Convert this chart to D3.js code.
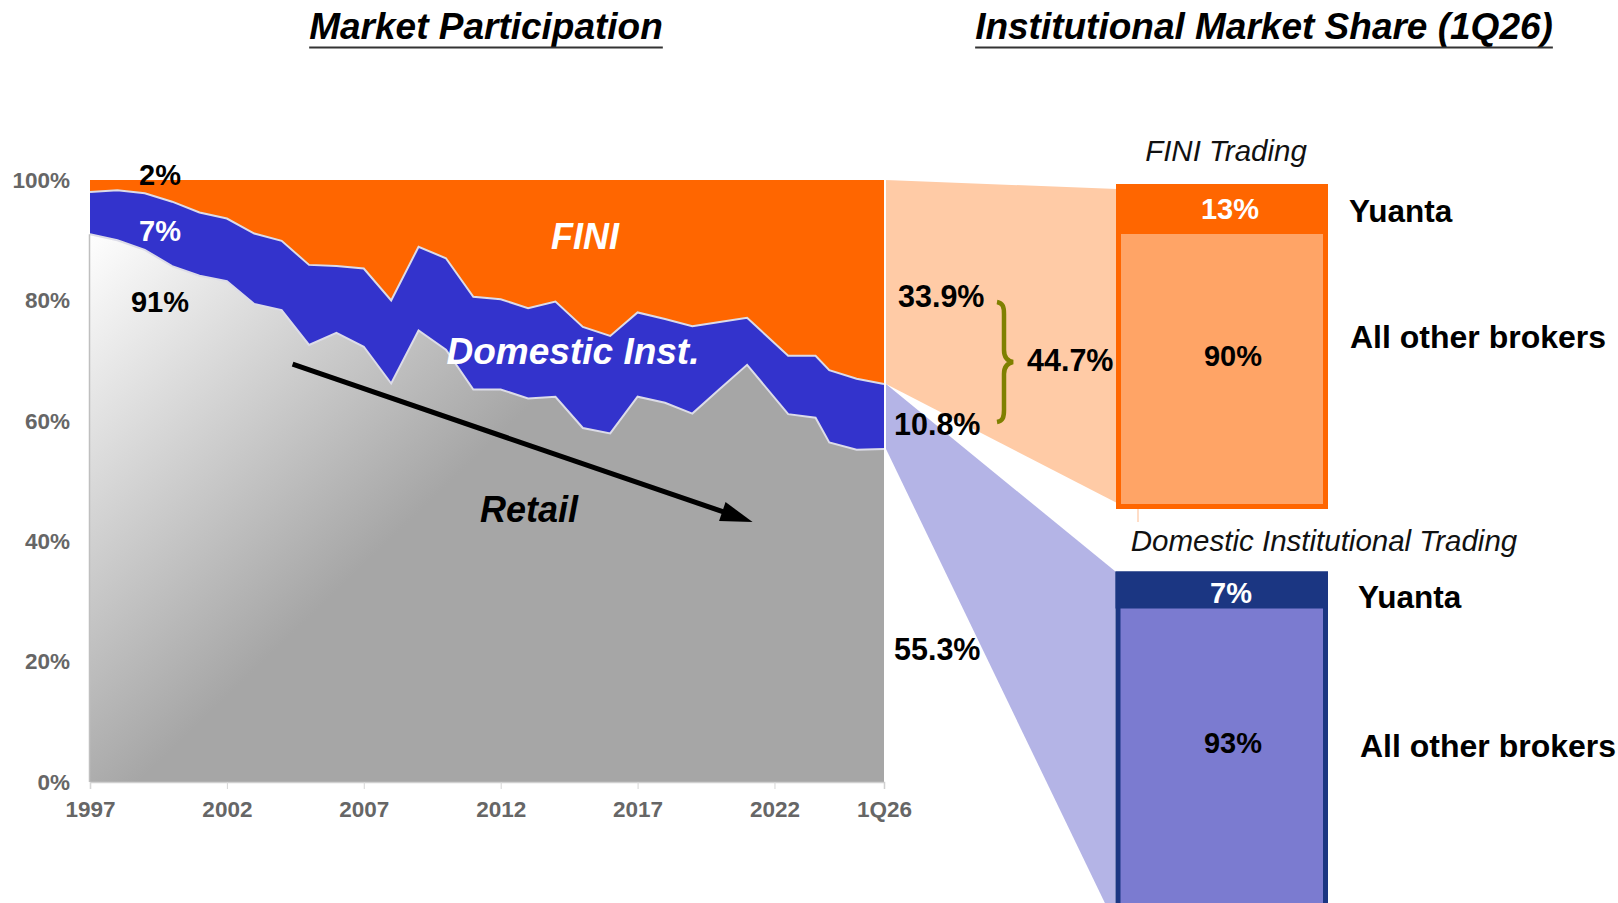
<!DOCTYPE html>
<html>
<head>
<meta charset="utf-8">
<script src="https://cdn.jsdelivr.net/npm/d3@7/dist/d3.min.js"></script>
<style>
  body { margin: 0; background: #fff; }
  text { font-family: "Liberation Sans", Arial, sans-serif; }
</style>
</head>
<body>
<div id="svg-spot"></div>
<script>
// Market participation by period (2026 = 1Q26)
var periods  = [1997, 1998, 1999, 2000, 2001, 2002, 2003, 2004, 2005, 2006, 2007, 2008, 2009, 2010, 2011,
                2012, 2013, 2014, 2015, 2016, 2017, 2018, 2019, 2020, 2021, 2022.5, 2023.5, 2024, 2025, 2026];
var retail   = [91, 90.0, 88.4, 85.7, 84.1, 83.2, 79.4, 78.4, 72.6, 74.6, 72.3, 66.2, 75.0, 71.8, 65.2,
                65.2, 63.7, 64.0, 58.8, 57.9, 64.0, 63.0, 61.2, 65.3, 69.3, 61.1, 60.5, 56.4, 55.2, 55.3];
var domestic = [7, 8.3, 9.4, 10.7, 10.5, 10.4, 11.7, 11.5, 13.3, 11.1, 13.0, 13.8, 13.9, 15.2, 15.4,
                15.0, 15.0, 15.8, 16.8, 16.2, 14.0, 13.9, 14.5, 11.1, 7.8, 9.7, 10.3, 12.0, 11.8, 10.8];
var fini     = [2, 1.7, 2.2, 3.6, 5.4, 6.4, 8.9, 10.1, 14.1, 14.3, 14.7, 20.0, 11.1, 13.0, 19.4,
                19.8, 21.3, 20.2, 24.4, 25.9, 22.0, 23.1, 24.3, 23.6, 22.9, 29.2, 29.2, 31.6, 33.0, 33.9];

var xTicks = [1997, 2002, 2007, 2012, 2017, 2022, 2026];
var yTicks = [0, 20, 40, 60, 80, 100];

// Latest split (1Q26)
var latestRetail = 55.3, latestDom = 10.8, latestFini = 33.9, latestInst = 44.7;

// Yuanta share of institutional trading
var finiShare = [{name: "Yuanta", value: 13}, {name: "All other brokers", value: 90}];
var domShare  = [{name: "Yuanta", value: 7},  {name: "All other brokers", value: 93}];

var colors = {fini: "#FF6600", dom: "#3333CC", retail: "#A6A6A6"};

var svgWidth = 1618, svgHeight = 903;

var svg = d3.select("#svg-spot")
    .append("svg")
    .attr("width", svgWidth)
    .attr("height", svgHeight);

var defs = svg.append("defs");
var grad = defs.append("linearGradient")
    .attr("id", "retailGrad")
    .attr("gradientUnits", "userSpaceOnUse")
    .attr("x1", 90).attr("y1", 228)
    .attr("x2", 390).attr("y2", 540);
grad.append("stop").attr("offset", 0).attr("stop-color", "#ffffff");
grad.append("stop").attr("offset", 1).attr("stop-color", colors.retail);

// Scales
var x = d3.scaleLinear().domain([1997, 2026]).range([90, 884]);
var y = d3.scaleLinear().domain([0, 100]).range([782, 180]);

// Build the table for the stack
var table = periods.map(function(p, i) {
    return {t: p, retail: retail[i], dom: domestic[i], fini: fini[i]};
});
var series = d3.stack().keys(["retail", "dom", "fini"])(table);

var area = d3.area()
    .x(function(d) { return x(d.data.t); })
    .y0(function(d) { return y(d[0]); })
    .y1(function(d) { return y(d[1]); });

var fills = {retail: "url(#retailGrad)", dom: colors.dom, fini: colors.fini};

svg.append("g").selectAll("path")
    .data(series)
    .enter()
    .append("path")
    .attr("d", area)
    .attr("fill", function(d) { return fills[d.key]; });

// light edges on top of retail and domestic layers
var edge = d3.line()
    .x(function(d) { return x(d.data.t); })
    .y(function(d) { return y(d[1]); });
svg.append("g").selectAll("path")
    .data(series.slice(0, 2))
    .enter()
    .append("path")
    .attr("d", edge)
    .attr("fill", "none")
    .attr("stroke", "#dcdce8")
    .attr("stroke-width", 2);

// Y axis line beside the retail area
svg.append("line")
    .attr("x1", x(1997) - 0.5).attr("x2", x(1997) - 0.5)
    .attr("y1", y(retail[0])).attr("y2", y(0))
    .attr("stroke", "#bfbfbf").attr("stroke-width", 1.5);

var axisFont = function(sel) {
    sel.attr("fill", "#666")
        .style("font-size", "22.5px")
        .style("font-weight", "bold")
        .style("font-family", "'Liberation Sans', Arial, sans-serif");
};

// X axis
var xAxis = svg.append("g")
    .attr("transform", "translate(0," + y(0) + ")")
    .call(d3.axisBottom(x)
        .tickValues(xTicks)
        .tickSize(7)
        .tickPadding(12)
        .tickFormat(function(d) { return d === 2026 ? "1Q26" : d; }));
xAxis.select(".domain").attr("stroke", "#d0d0d0").attr("stroke-width", 1.5);
xAxis.selectAll(".tick line").attr("stroke", "#d6d6d6")
    .attr("opacity", function(d) { return d === 2026 ? 0 : 1; });
xAxis.selectAll(".tick text").call(axisFont);

// Y axis
var yAxis = svg.append("g")
    .attr("transform", "translate(" + x(1997) + ",0)")
    .call(d3.axisLeft(y)
        .tickValues(yTicks)
        .tickSize(0)
        .tickPadding(20)
        .tickFormat(function(d) { return d + "%"; }));
yAxis.select(".domain").remove();
yAxis.selectAll(".tick text").call(axisFont);

// Labels in the chart
function label(txt, px, py, opts) {
    opts = opts || {};
    return svg.append("text")
        .attr("x", px).attr("y", py)
        .attr("dy", "0.35em")
        .attr("text-anchor", opts.anchor || "middle")
        .attr("fill", opts.fill || "#000")
        .style("font-size", (opts.size || 29) + "px")
        .style("font-weight", opts.weight || "bold")
        .style("font-style", opts.style || "normal")
        .text(txt);
}

label(fini[0] + "%", 160, 175);
label(domestic[0] + "%", 160, 231, {fill: "#fff"});
label(retail[0] + "%", 160, 302);
label("FINI", 585, 236, {fill: "#fff", size: 36, style: "italic"});
label("Domestic Inst.", 573, 351, {fill: "#fff", size: 37, style: "italic"});
label("Retail", 529, 509, {size: 36, style: "italic"});

// Trend arrow
var a0 = [x(2004.4), y(69.4)], a1 = [x(2021.2), y(43.2)];
var ang = Math.atan2(a1[1] - a0[1], a1[0] - a0[0]);
var headLen = 32, headW = 10;
var base = [a1[0] - headLen * Math.cos(ang), a1[1] - headLen * Math.sin(ang)];
svg.append("line")
    .attr("x1", a0[0]).attr("y1", a0[1])
    .attr("x2", base[0] + 2 * Math.cos(ang)).attr("y2", base[1] + 2 * Math.sin(ang))
    .attr("stroke", "#000").attr("stroke-width", 5);
svg.append("path")
    .attr("d", d3.line()([
        a1,
        [base[0] + headW * Math.sin(ang), base[1] - headW * Math.cos(ang)],
        [base[0] - headW * Math.sin(ang), base[1] + headW * Math.cos(ang)]
    ]) + "Z")
    .attr("fill", "#000");

// Titles
function title(txt, cx) {
    var t = svg.append("text")
        .attr("x", cx).attr("y", 39)
        .attr("text-anchor", "middle")
        .style("font-size", "37px")
        .style("font-weight", "bold")
        .style("font-style", "italic")
        .text(txt);
    var bb = t.node().getBBox();
    svg.append("line")
        .attr("x1", bb.x).attr("x2", bb.x + bb.width)
        .attr("y1", 47.5).attr("y2", 47.5)
        .attr("stroke", "#333").attr("stroke-width", 2);
}
title("Market Participation", 486);
title("Institutional Market Share (1Q26)", 1264);

// Connectors from the 1Q26 slice to the share boxes
var xc = x(2026) + 2;
var finiBox = {x: 1116, y: 184, w: 212, h: 325, head: 50};
var domBox  = {x: 1115.5, y: 571.5, w: 212.5, h: 360, head: 37};

svg.append("path")
    .attr("d", d3.line()([
        [xc, y(100)], [finiBox.x + 1, finiBox.y + 5],
        [finiBox.x + 1, finiBox.y + finiBox.h - 6], [xc, y(latestRetail + latestDom)]
    ]) + "Z")
    .attr("fill", "#FFCBA6");

svg.append("path")
    .attr("d", d3.line()([
        [xc, y(latestRetail + latestDom)], [domBox.x, domBox.y],
        [domBox.x, 925], [xc, y(latestRetail)]
    ]) + "Z")
    .attr("fill", "#B4B4E6");

// FINI share box
svg.append("rect")
    .attr("x", finiBox.x + 2.5).attr("y", finiBox.y + 2.5)
    .attr("width", finiBox.w - 5).attr("height", finiBox.h - 5)
    .attr("fill", "#FFA466")
    .attr("stroke", colors.fini).attr("stroke-width", 5);
svg.append("rect")
    .attr("x", finiBox.x).attr("y", finiBox.y)
    .attr("width", finiBox.w).attr("height", finiBox.head)
    .attr("fill", colors.fini);
svg.append("line")
    .attr("x1", 1138).attr("x2", 1138)
    .attr("y1", finiBox.y + finiBox.h).attr("y2", finiBox.y + finiBox.h + 13)
    .attr("stroke", "#FFD2B4").attr("stroke-width", 1.5);

// Domestic share box
svg.append("rect")
    .attr("x", domBox.x + 2.5).attr("y", domBox.y + 2.5)
    .attr("width", domBox.w - 5).attr("height", domBox.h - 5)
    .attr("fill", "#7B7BD0")
    .attr("stroke", "#1B3682").attr("stroke-width", 5);
svg.append("rect")
    .attr("x", domBox.x).attr("y", domBox.y)
    .attr("width", domBox.w).attr("height", domBox.head)
    .attr("fill", "#1B3682");

// Box titles
label("FINI Trading", 1226, 151, {size: 29.5, weight: "normal", style: "italic", fill: "#111"});
label("Domestic Institutional Trading", 1324, 541, {size: 29.5, weight: "normal", style: "italic", fill: "#111"});

// Share values and names
label(finiShare[0].value + "%", 1230, 209, {fill: "#fff"});
label(finiShare[1].value + "%", 1233, 356);
label(finiShare[0].name, 1349, 211, {anchor: "start", size: 31.5});
label(finiShare[1].name, 1350, 337, {anchor: "start", size: 32});

label(domShare[0].value + "%", 1231, 593, {fill: "#fff"});
label(domShare[1].value + "%", 1233, 743);
label(domShare[0].name, 1358, 597, {anchor: "start", size: 31.5});
label(domShare[1].name, 1360, 746, {anchor: "start", size: 32});

// Latest split labels
label(latestFini.toFixed(1) + "%", 898, 296, {anchor: "start", size: 30.5});
label(latestDom.toFixed(1) + "%", 894, 424, {anchor: "start", size: 30.5});
label(latestInst.toFixed(1) + "%", 1027, 360, {anchor: "start", size: 30.5});
label(latestRetail.toFixed(1) + "%", 894, 649, {anchor: "start", size: 30.5});

// Brace grouping FINI + domestic
svg.append("path")
    .attr("d", "M997,302 C1003,303 1004,307 1004,314 L1004,350 C1004,358 1008,361 1013,362" +
               " C1008,363 1004,366 1004,374 L1004,410 C1004,417 1003,421 997,422")
    .attr("fill", "none")
    .attr("stroke", "#7F8000")
    .attr("stroke-width", 4.5);
</script>
</body>
</html>
